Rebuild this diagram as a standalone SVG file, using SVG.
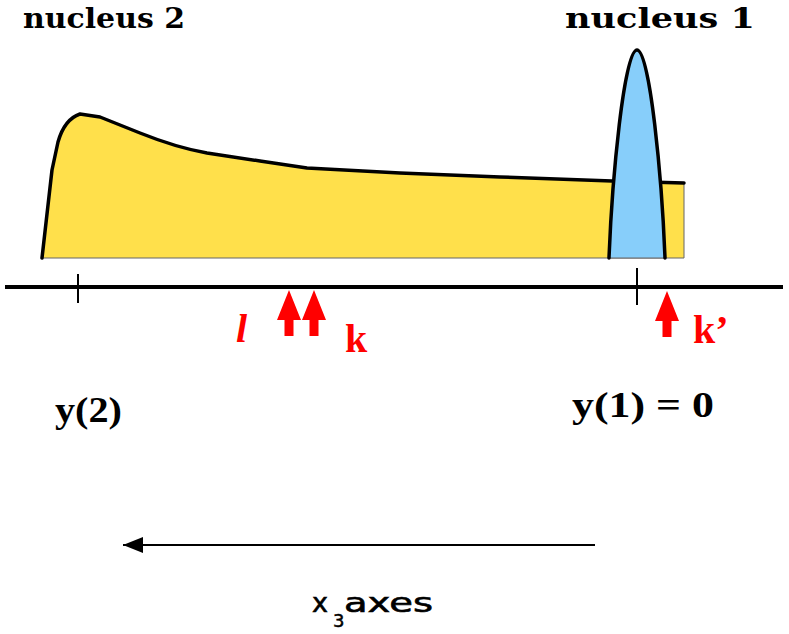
<svg xmlns="http://www.w3.org/2000/svg" width="789" height="634" viewBox="0 0 789 634">
  <style>
    .lbl { font-family: "DejaVu Serif", "Liberation Serif", serif; font-weight: bold; fill: #000; }
    .ylbl { font-family: "Liberation Serif", serif; font-weight: bold; font-size: 36px; fill: #000; }
    .red { font-family: "Liberation Serif", serif; font-weight: bold; font-size: 40px; fill: #ff0000; }
    .ax { font-family: "DejaVu Sans", "Liberation Sans", sans-serif; fill: #000; }
    .outline { fill: none; stroke: #000; stroke-width: 3.5; stroke-linejoin: round; stroke-linecap: round; }
  </style>
  <defs>
    <path id="uparrow" d="M0,0 L12,30 L4.5,30 L4.5,46 L-4.5,46 L-4.5,30 L-12,30 Z" fill="#ff0000"/>
    <marker id="head" markerWidth="20" markerHeight="16" refX="20" refY="8" orient="auto" markerUnits="userSpaceOnUse">
      <path d="M0,0 L20,8 L0,16 Z" fill="#000"/>
    </marker>
  </defs>

  <g id="nucleus2">
    <path d="M42,258 L52,170 L58,142 C62,128 68,118 80,114 L100,117 L140,133 C170,145 190,150 207,153 L260,161 L307,168 L400,173 L500,177 L612,181 L684,183 L684,258 Z" fill="#ffe04b" stroke="#666" stroke-width="1"/>
    <path class="outline" d="M42,258 L52,170 L58,142 C62,128 68,118 80,114 L100,117 L140,133 C170,145 190,150 207,153 L260,161 L307,168 L400,173 L500,177 L612,181 L684,183"/>
    <text class="lbl" x="23" y="28" font-size="28" textLength="162" lengthAdjust="spacingAndGlyphs">nucleus 2</text>
  </g>

  <g id="nucleus1">
    <path d="M609,258 C612,180 624,50 637,50 C650,50 662,180 665,258 Z" fill="#87cefa" stroke="#666" stroke-width="1"/>
    <path class="outline" d="M609,258 C612,180 624,50 637,50 C650,50 662,180 665,258"/>
    <text class="lbl" x="565" y="28" font-size="28" textLength="190" lengthAdjust="spacingAndGlyphs">nucleus 1</text>
  </g>

  <g id="axis">
    <line x1="5" y1="287" x2="783" y2="287" stroke="#000" stroke-width="4"/>
    <line x1="78" y1="274" x2="78" y2="303" stroke="#000" stroke-width="2"/>
    <line x1="637" y1="268" x2="637" y2="305" stroke="#000" stroke-width="2"/>
  </g>

  <g id="label-y2">
    <text class="ylbl" x="55" y="422" textLength="67" lengthAdjust="spacingAndGlyphs">y(2)</text>
  </g>
  <g id="label-y1">
    <text class="ylbl" x="572" y="417" textLength="142" lengthAdjust="spacingAndGlyphs">y(1) = 0</text>
  </g>

  <g id="marker-l">
    <use href="#uparrow" x="289" y="290"/>
    <text class="red" x="236" y="342" font-size="36" font-style="italic">l</text>
  </g>
  <g id="marker-k">
    <use href="#uparrow" x="314" y="290"/>
    <text class="red" x="345" y="352">k</text>
  </g>
  <g id="marker-kprime">
    <use href="#uparrow" x="667" y="291"/>
    <text class="red" x="693" y="343">k’</text>
  </g>

  <g id="connectors">
    <line x1="595" y1="545" x2="123" y2="545" stroke="#000" stroke-width="2" marker-end="url(#head)"/>
  </g>

  <g id="x3-label">
    <text class="ax" x="312" y="612" font-size="27" stroke="#000" stroke-width="0.6">x</text>
    <text class="ax" x="333" y="627" font-size="18" stroke="#000" stroke-width="0.5">3</text>
    <text class="ax" x="344" y="612" font-size="27" stroke="#000" stroke-width="0.6" textLength="89" lengthAdjust="spacingAndGlyphs">axes</text>
  </g>
</svg>
